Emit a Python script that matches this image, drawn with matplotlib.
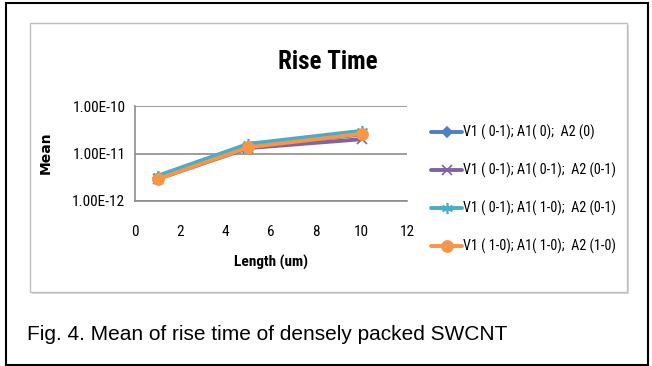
import matplotlib
matplotlib.use("Agg")
import matplotlib.pyplot as plt
from matplotlib.patches import Rectangle
from matplotlib.ticker import FixedLocator

lengths = [1, 5, 10]
series_labels = [
    "V1 ( 0-1); A1( 0);  A2 (0)",
    "V1 ( 0-1); A1( 0-1);  A2 (0-1)",
    "V1 ( 0-1); A1( 1-0);  A2 (0-1)",
    "V1 ( 1-0); A1( 1-0);  A2 (1-0)",
]
blue_vals = [3.0e-12, 1.4e-11, 2.5e-11]
purple_vals = [2.9e-12, 1.3e-11, 2.0e-11]
teal_vals = [3.4e-12, 1.6e-11, 3.0e-11]
orange_vals = [2.9e-12, 1.35e-11, 2.6e-11]
y_ticks = [1e-12, 1e-11, 1e-10]
y_tick_labels = ["1.00E-12", "1.00E-11", "1.00E-10"]
x_ticks = [0, 2, 4, 6, 8, 10, 12]

narrow = ["Roboto Condensed", "DejaVu Sans"]

W, H = 652, 366
fig = plt.figure(figsize=(W / 100, H / 100), dpi=100)
fig.patch.set_facecolor("white")

# outer black frame
fig.add_artist(Rectangle((6 / W, 1 - 365 / H), 642 / W, 362 / H, transform=fig.transFigure,
                         fill=False, edgecolor="black", linewidth=1.5, zorder=-10))
# inner chart frame (shadow + border)
fig.add_artist(Rectangle((32 / W, 1 - 294 / H), 597 / W, 269 / H, transform=fig.transFigure,
                         fill=True, facecolor="#d9d9d9", edgecolor="none", zorder=-9))
fig.add_artist(Rectangle((30 / W, 1 - 292 / H), 597 / W, 269 / H, transform=fig.transFigure,
                         fill=True, facecolor="white", edgecolor="#bfbfbf", linewidth=1.0, zorder=-8))

ax = fig.add_axes([135 / W, 1 - 201 / H, 272 / W, 95 / H])
ax.set_facecolor("none")

styles = [
    (blue_vals, "#4F81BD", "D", 5),
    (purple_vals, "#8064A2", "x", 7),
    (teal_vals, "#4BACC6", (6, 2, 0), 8),
    (orange_vals, "#F79646", "o", 8),
]
handles = []
for (vals, col, mk, ms), lab in zip(styles, series_labels):
    h, = ax.plot(lengths, vals, color=col, lw=2.8, marker=mk, markersize=ms,
                 markeredgecolor=col, markerfacecolor=col, markeredgewidth=1.2, label=lab,
                 solid_capstyle="round", clip_on=False)
    handles.append(h)

ax.set_yscale("log")
ax.set_ylim(1e-12, 1e-10)
ax.set_xlim(0, 12)
ax.yaxis.set_major_locator(FixedLocator(y_ticks))
ax.yaxis.set_minor_locator(FixedLocator([]))
ax.set_yticklabels(y_tick_labels)
ax.set_xticks(x_ticks)
ax.grid(axis="y", color="#8c8c8c", linewidth=1.2)
for s in ["top", "right"]:
    ax.spines[s].set_visible(False)
for s in ["left", "bottom"]:
    ax.spines[s].set_color("#8c8c8c")
    ax.spines[s].set_linewidth(1.2)
ax.tick_params(axis="both", length=0, labelsize=11, colors="black")
ax.tick_params(axis="y", pad=7)
ax.tick_params(axis="x", pad=17)
for lbl in ax.get_xticklabels() + ax.get_yticklabels():
    lbl.set_family(narrow)
ax.set_axisbelow(True)

ax.set_xlabel("Length (um)", fontsize=11, fontweight="bold", family=narrow, labelpad=12)
fig.text(46 / W, 1 - 153 / H, "Mean", rotation=90, fontsize=10, fontweight="bold",
         family=["DejaVu Sans"], ha="center", va="center")

fig.text(328 / W, 1 - 62 / H, "Rise Time", fontsize=18, fontweight="bold", family=narrow,
         ha="center", va="center")

leg = fig.legend(handles=handles, labels=series_labels, loc="upper left",
                 bbox_to_anchor=(431 / W, 1 - 125 / H), frameon=False,
                 prop={"family": narrow, "size": 10.2}, handlelength=2.2, handletextpad=0.05,
                 labelspacing=1.6, borderaxespad=0, borderpad=0)

fig.text(27 / W, 1 - 335 / H, "Fig. 4. Mean of rise time of densely packed SWCNT",
         fontsize=15, family=["Liberation Sans", "DejaVu Sans"], ha="left", va="center")

fig.savefig("out.png", dpi=100)
